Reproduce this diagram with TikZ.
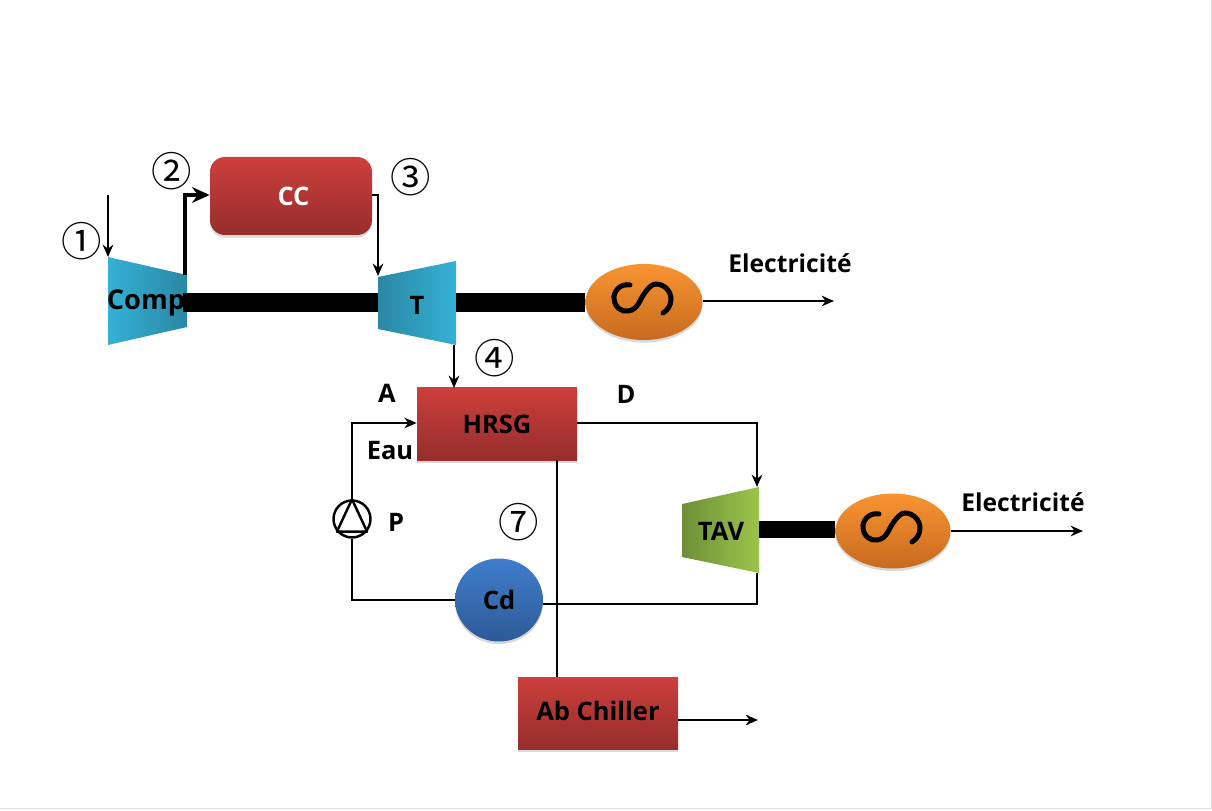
\documentclass[tikz,border=0pt]{standalone}
\usepackage{fontspec}
\setmainfont{Open Sans}
\newfontfamily\cjk{Noto Sans CJK SC}
\usepackage{xcolor}
\usetikzlibrary{shapes.geometric, arrows.meta, positioning, calc, shadows}
\definecolor{redtop}{HTML}{CC3F3C}
\definecolor{redbot}{HTML}{962E2C}
\definecolor{tealbright}{HTML}{35B1D6}
\definecolor{tealdark}{HTML}{2A87A3}
\definecolor{greenbright}{HTML}{9CC44A}
\definecolor{greendark}{HTML}{6E8F38}
\definecolor{orangetop}{HTML}{F89431}
\definecolor{orangebot}{HTML}{C76A20}
\definecolor{bluetop}{HTML}{3F7ECC}
\definecolor{bluebot}{HTML}{2E5A96}

\begin{document}
\begin{tikzpicture}[x=0.2mm, y=-0.2mm,
        softshadow/.style={drop shadow={opacity=0.3, shadow xshift=0pt, shadow yshift=-1.5pt}},
        redbox/.style={rectangle, top color=redtop, bottom color=redbot, minimum width=3.2cm, minimum height=1.44cm, inner sep=0pt, softshadow},
        gen/.style={ellipse, top color=orangetop, bottom color=orangebot, minimum width=2.34cm, minimum height=1.52cm, inner sep=0pt, softshadow},
        lbl/.style={font=\fontsize{14.5}{16}\selectfont\bfseries, inner sep=0pt},
        num/.style={font=\cjk\fontsize{23}{23}\selectfont, inner sep=0pt},
        shaft/.style={fill=black, draw=none},
        arrow/.style={-{Stealth[length=7pt, width=6pt]}, line width=1.25pt},
        line/.style={line width=1.25pt}]
        \useasboundingbox (0,0) rectangle (1212,811);
        \draw[black!12, line width=0.5pt] (1211.5,0) -- (1211.5,808.5) -- (0,808.5);

        % turbines
        \coordinate (compa) at (108,257);
        \coordinate (compb) at (187,275);
        \coordinate (compc) at (187,327);
        \coordinate (compd) at (108,345);
        \coordinate (ta) at (378,277);
        \coordinate (tb) at (456,261);
        \coordinate (tc) at (456,345);
        \coordinate (td) at (378,329);
        \coordinate (tava) at (682,504);
        \coordinate (tavb) at (759,487);
        \coordinate (tavc) at (759,573);
        \coordinate (tavd) at (682,557);
        \shade[left color=tealbright, right color=tealdark] (compa) -- (compb) -- (compc) -- (compd) -- cycle;
        \shade[left color=tealdark, right color=tealbright] (ta) -- (tb) -- (tc) -- (td) -- cycle;
        \shade[left color=greendark, right color=greenbright] (tava) -- (tavb) -- (tavc) -- (tavd) -- cycle;

        % main nodes
        \node[redbox, rounded corners=3mm, minimum width=3.24cm, minimum height=1.56cm, text=white, lbl] (cc) at (291,196) {\hspace*{1mm}CC};
        \node[redbox, lbl] (hrsg) at (497,424) {HRSG};
        \node[redbox, lbl] (chiller) at (598,713) {\raisebox{1mm}{Ab Chiller}};
        \node[gen] (gena) at (644,302) {};
        \node[gen, minimum width=2.3cm, minimum height=1.5cm] (genb) at (893,531) {};
        \node[ellipse, top color=bluetop, bottom color=bluebot, minimum width=1.76cm, minimum height=1.66cm, inner sep=0pt, softshadow, lbl] (cd) at (499,600) {Cd};
        \node[circle, draw, line width=1.4pt, minimum size=0.74cm, inner sep=0pt] (pump) at (352,519) {};
        \draw[line width=1.4pt, line join=round] (pump.north) -- (pump.-140) -- (pump.-40) -- cycle;

        % shafts
        \fill[shaft] (183,293) rectangle (378,312);
        \fill[shaft] (456,293) rectangle (gena.west |- 0,312);
        \fill[shaft] (759,521) rectangle (genb.west |- 0,538);

        % sine marks
        \foreach \g in {gena, genb} {
            \begin{scope}[shift={(\g)}]
                \draw[line width=1mm, line cap=round] (-14,-17) .. controls (-24,-19) and (-31,-10) .. (-30,-3) .. controls (-29,6) and (-22,10) .. (-16,9) .. controls (-6,8) and (-4,-3) .. (0,-8) .. controls (4,-14) and (8,-18) .. (12,-18) .. controls (20,-18) and (27,-11) .. (27,-3) .. controls (27,3) and (24,8) .. (19,11);
            \end{scope}
        }

        % turbine names
        \node[lbl, font=\fontsize{15.5}{16}\selectfont\bfseries] (comptxt) at (146,303) {Comp};
        \node[lbl] (ttxt) at (417,305) {T};
        \node[lbl] (tavtxt) at (721,531) {TAV};

        % free ends
        \coordinate (airin) at (108,195);
        \coordinate (elecaend) at (834,301);
        \coordinate (elecbend) at (1083,531);
        \coordinate (coldend) at (758,720);

        % connectors
        \draw[arrow] (airin) -- (compa);
        \draw[-{Stealth[length=10pt, width=9pt]}, line width=2.2pt] (185,275) -- (185,195) -- (cc.west |- 0,195);
        \draw[arrow] (cc.east |- 0,195) -- (378,195) -- (378,276);
        \draw[arrow, line width=1.5pt] (454,345) -- (454,388);
        \draw[arrow] (pump.north) -- (352,423) -- (hrsg.west |- 0,423);
        \draw[line] (cd.west) -- (352,600) -- (pump.south);
        \draw[arrow] (hrsg.east |- 0,423) -- (757,423) -- (757,487);
        \draw[line] (757,573) -- (757,604) -- (cd.east |- 0,604);
        \draw[line, line width=1.5pt] (557,460) -- (557,677);
        \draw[arrow] (gena.east |- 0,301) -- (elecaend);
        \draw[arrow] (genb.east) -- (elecbend);
        \draw[arrow] (chiller.east |- 0,720) -- (coldend);

        % labels
        \node[lbl, font=\fontsize{14}{16}\selectfont\bfseries] (eleca) at (790,263) {Electricité};
        \node[lbl, font=\fontsize{14}{16}\selectfont\bfseries] (elecb) at (1023,502) {Electricité};
        \node[lbl] (a) at (387,393) {A};
        \node[lbl] (d) at (626,394) {D};
        \node[lbl] (eau) at (390,451) {Eau};
        \node[lbl] (p) at (396,522) {P};
        \node[num] (n1) at (82,241) {①};
        \node[num] (n2) at (172,171) {②};
        \node[num] (n3) at (411,177) {③};
        \node[num] (n4) at (495,358) {④};
        \node[num] (n7) at (519,522) {⑦};
    \end{tikzpicture}
\end{document}
